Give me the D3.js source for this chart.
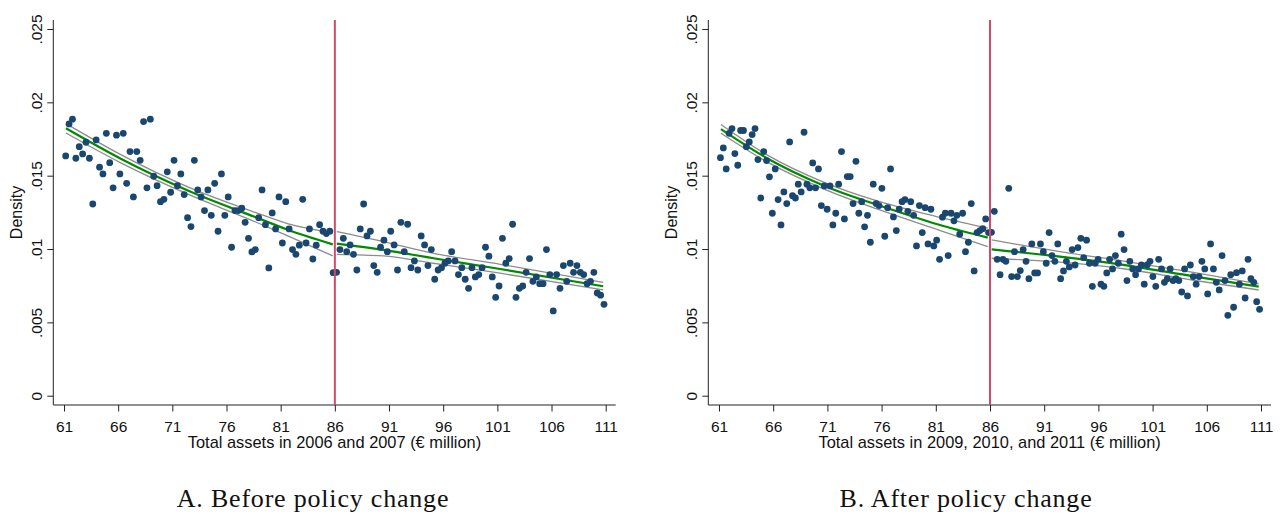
<!DOCTYPE html>
<html>
<head>
<meta charset="utf-8">
<script src="https://cdn.jsdelivr.net/npm/d3@7"></script>
<style>
  body { margin: 0; background: #fff; }
  svg { display: block; }
</style>
</head>
<body>
<div id="chart"></div>
<script>
//axis ticks
const xTicks = [61, 66, 71, 76, 81, 86, 91, 96, 101, 106, 111];
const yTicks = [0, 0.005, 0.01, 0.015, 0.02, 0.025];
const yTickLabels = ["0", ".005", ".01", ".015", ".02", ".025"];

//running variable support and threshold (€ million)
const xLow = 61;
const cutoff = 86;
const xHigh = 111;

//binned densities, panel A (2006-2007), 80 bins each side
const densA_below = [
  .01635, .01853, .01885, .01619, .01698, .01648, .01728, .01619, .01307, .01744,
  .01558, .01512, .01789, .01589, .01417, .01776, .01512, .01789, .01448, .01664,
  .01355, .01664, .01605, .01869, .01417, .01885, .01496, .01432, .01323, .01339,
  .01526, .01387, .01605, .01432, .01512, .01371, .01214, .01153, .01605, .01403,
  .01355, .01262, .01403, .01230, .01448, .01121, .01512, .01230, .01355, .01012,
  .01262, .01262, .01278, .01182, .01073, .00980, .00996, .01214, .01403, .01166,
  .00871, .01246, .01137, .01355, .01041, .01323, .01137, .00996, .00964, .01026,
  .01339, .01041, .01137, .00932, .01026, .01166, .01121, .01105, .01121, .00839
];
const densA_above = [
  .00841, .00996, .01073, .00982, .01028, .00964, .00857, .01137, .01307, .01089,
  .01121, .00887, .00841, .01012, .01060, .00982, .01121, .01028, .00857, .01182,
  .00982, .01169, .00873, .00919, .00857, .01089, .01028, .00887, .00996, .00794,
  .00857, .00873, .00903, .00919, .00982, .00919, .00826, .00873, .00794, .00732,
  .00873, .00810, .00826, .00873, .01012, .00951, .00810, .00671, .00748, .01073,
  .00903, .00935, .01169, .00671, .00732, .00748, .00841, .00935, .00780, .00810,
  .00764, .00764, .00996, .00826, .00578, .00826, .00732, .00887, .00780, .00903,
  .00841, .00887, .00841, .00826, .00764, .00780, .00841, .00700, .00685, .00623
];

//binned densities, panel B (2009-2011), 94 bins each side
const densB_below = [
  .01623, .01689, .01546, .01789, .01821, .01651, .01571, .01808, .01808, .01698,
  .01730, .01780, .01821, .01610, .01348, .01664, .01603, .01492, .01244, .01546,
  .01337, .01164, .01389, .01310, .01730, .01364, .01348, .01442, .01389, .01796,
  .01442, .01417, .01587, .01417, .01546, .01296, .01430, .01271, .01430, .01164,
  .01244, .01442, .01664, .01205, .01494, .01494, .01310, .01598, .01244, .01323,
  .01151, .01230, .01046, .01442, .01310, .01296, .01414, .01087, .01282, .01546,
  .01219, .01126, .01271, .01323, .01337, .01257, .01323, .01230, .01021, .01296,
  .01112, .01282, .01035, .01271, .01021, .01060, .00930, .01217, .01244, .00955,
  .01244, .01192, .01230, .01101, .01244, .00982, .01046, .01310, .00851, .01112,
  .01126, .01139, .01205, .01112
];
const densB_above = [
  .01114, .01257, .00930, .00825, .00930, .00916, .01414, .00812, .00982, .00812,
  .00853, .00996, .00916, .00798, .01035, .00837, .00837, .01035, .00982, .00903,
  .01112, .00955, .00916, .01035, .00798, .00851, .00916, .00878, .00996, .00891,
  .01010, .01073, .00941, .01060, .00903, .00746, .00903, .00930, .00760, .00746,
  .00837, .00930, .00864, .00955, .00903, .01101, .00996, .00785, .00916, .00864,
  .00825, .00864, .00891, .00760, .00891, .00916, .00812, .00746, .00930, .00864,
  .00773, .00798, .00864, .00785, .00798, .00785, .00707, .00864, .00680, .00891,
  .00812, .00760, .00812, .00916, .00864, .00694, .01035, .00864, .00773, .00721,
  .00955, .00785, .00548, .00825, .00603, .00839, .00760, .00851, .00666, .00930,
  .00798, .00773, .00641, .00589
];

//fitted density and 95% bands, panel A
const fitA_below_x  = [61.18, 66.33, 72.48, 78.64, 81.71, 85.81];
const fitA_below    = [.01823, .01612, .01397, .01218, .01130, .01032];
const fitA_below_hi = [.01855, .01640, .01422, .01250, .01172, .01111];
const fitA_below_lo = [.01791, .01584, .01372, .01186, .01088, .00953];
const fitA_above_x  = [86.18, 90.48, 95.10, 101.26, 110.77];
const fitA_above    = [.01037, .00994, .00937, .00864, .00746];
const fitA_above_hi = [.01119, .01051, .00971, .00896, .00773];
const fitA_above_lo = [.00964, .00953, .00903, .00835, .00721];

//fitted density and 95% bands, panel B
const fitB_below_x  = [61.18, 65.43, 70.75, 76.56, 81.69, 85.79];
const fitB_below    = [.01817, .01619, .01430, .01278, .01157, .01078];
const fitB_below_hi = [.01849, .01642, .01453, .01307, .01210, .01142];
const fitB_below_lo = [.01789, .01594, .01407, .01248, .01119, .01017];
const fitB_above_x  = [86.15, 92.46, 98.61, 104.76, 110.79];
const fitB_above    = [.00998, .00948, .00889, .00814, .00744];
const fitB_above_hi = [.01062, .00982, .00914, .00841, .00762];
const fitB_above_lo = [.00937, .00910, .00862, .00787, .00721];

//chart properties
const width = 1282;
const height = 517;
const plotTop = 20;
const plotBottom = 405;

const dotColor = "#1a476f";
const fitColor = "#008a00";
const bandColor = "#8c8c8c";
const cutColor = "#d1496b";
const sansFont = "'Liberation Sans', Arial, sans-serif";
const serifFont = "'Liberation Serif', 'Times New Roman', serif";

const panels = [
  {
    left: 53.3, right: 615.7, titleX: 313,
    title: "A. Before policy change",
    xTitle: "Total assets in 2006 and 2007 (€ million)",
    below: densA_below, above: densA_above,
    fits: [
      [fitA_below_x, fitA_below, fitA_below_hi, fitA_below_lo],
      [fitA_above_x, fitA_above, fitA_above_hi, fitA_above_lo]
    ]
  },
  {
    left: 708.3, right: 1271, titleX: 966,
    title: "B. After policy change",
    xTitle: "Total assets in 2009, 2010, and 2011 (€ million)",
    below: densB_below, above: densB_above,
    fits: [
      [fitB_below_x, fitB_below, fitB_below_hi, fitB_below_lo],
      [fitB_above_x, fitB_above, fitB_above_hi, fitB_above_lo]
    ]
  }
];

//select svg
const svg = d3.select("#chart")
  .append("svg")
  .attr("width", width)
  .attr("height", height);

//y scale is the same for both panels
const yscale = d3.scaleLinear()
  .domain([0, 0.025])
  .range([395.7, 29]);

//bin midpoints for one side of the cutoff
const binCenters = (arr, start, end) => {
  const w = (end - start) / arr.length;
  return arr.map((d, i) => ({ x: start + (i + 0.5) * w, y: d }));
};

panels.forEach(p => {
  const g = svg.append("g");

  const xscale = d3.scaleLinear()
    .domain([61, 111])
    .range([p.left + 10.7, p.right - 10]);

  //x axis
  const xAxisG = g.append("g")
    .attr("transform", "translate(0," + plotBottom + ")")
    .call(d3.axisBottom(xscale)
      .tickValues(xTicks)
      .tickSize(6.5)
      .tickPadding(9.5)
      .tickFormat(d3.format("d")));
  xAxisG.select(".domain").remove();

  //y axis
  const yAxisG = g.append("g")
    .attr("transform", "translate(" + p.left + ",0)")
    .call(d3.axisLeft(yscale)
      .tickValues(yTicks)
      .tickSize(6)
      .tickFormat((d, i) => yTickLabels[i]));
  yAxisG.select(".domain").remove();
  yAxisG.selectAll("text")
    .attr("transform", "rotate(-90)")
    .attr("x", 0)
    .attr("y", -11)
    .attr("dy", 0)
    .attr("text-anchor", "middle");

  g.selectAll(".tick line").attr("stroke", "#222");
  g.selectAll(".tick text")
    .attr("fill", "#111")
    .style("font-family", sansFont)
    .style("font-size", "15.5px");

  //axis lines
  g.append("line")
    .attr("x1", p.left).attr("x2", p.right)
    .attr("y1", plotBottom).attr("y2", plotBottom)
    .attr("stroke", "#222");
  g.append("line")
    .attr("x1", p.left).attr("x2", p.left)
    .attr("y1", plotTop).attr("y2", plotBottom)
    .attr("stroke", "#222");

  //axis titles
  g.append("text")
    .attr("transform", "translate(" + (p.left - 31) + "," + ((plotTop + plotBottom) / 2) + ") rotate(-90)")
    .attr("text-anchor", "middle")
    .attr("fill", "#111")
    .style("font-family", sansFont)
    .style("font-size", "16px")
    .text("Density");

  g.append("text")
    .attr("x", (p.left + p.right) / 2)
    .attr("y", 447.5)
    .attr("text-anchor", "middle")
    .attr("fill", "#111")
    .style("font-family", sansFont)
    .style("font-size", "16.4px")
    .text(p.xTitle);

  //panel caption
  g.append("text")
    .attr("x", p.titleX)
    .attr("y", 507)
    .attr("text-anchor", "middle")
    .attr("fill", "#111")
    .style("font-family", serifFont)
    .style("font-size", "26px")
    .style("letter-spacing", "0.8px")
    .text(p.title);

  //fitted lines and bands
  p.fits.forEach(f => {
    const [xs, fit, hi, lo] = f;
    const line = d3.line()
      .x((d, i) => xscale(xs[i]))
      .y(d => yscale(d))
      .curve(d3.curveMonotoneX);
    [hi, lo].forEach(b => {
      g.append("path")
        .attr("d", line(b))
        .attr("fill", "none")
        .attr("stroke", bandColor)
        .attr("stroke-width", 1.3);
    });
    g.append("path")
      .attr("d", line(fit))
      .attr("fill", "none")
      .attr("stroke", fitColor)
      .attr("stroke-width", 2.2);
  });

  //binned points
  const pts = binCenters(p.below, xLow, cutoff).concat(binCenters(p.above, cutoff, xHigh));
  g.append("g")
    .selectAll("circle")
    .data(pts)
    .join("circle")
    .attr("cx", d => xscale(d.x))
    .attr("cy", d => yscale(d.y))
    .attr("r", 3.4)
    .attr("fill", dotColor);

  //threshold line
  g.append("line")
    .attr("x1", xscale(cutoff)).attr("x2", xscale(cutoff))
    .attr("y1", plotTop).attr("y2", plotBottom)
    .attr("stroke", cutColor)
    .attr("stroke-width", 2);
});
</script>
</body>
</html>
